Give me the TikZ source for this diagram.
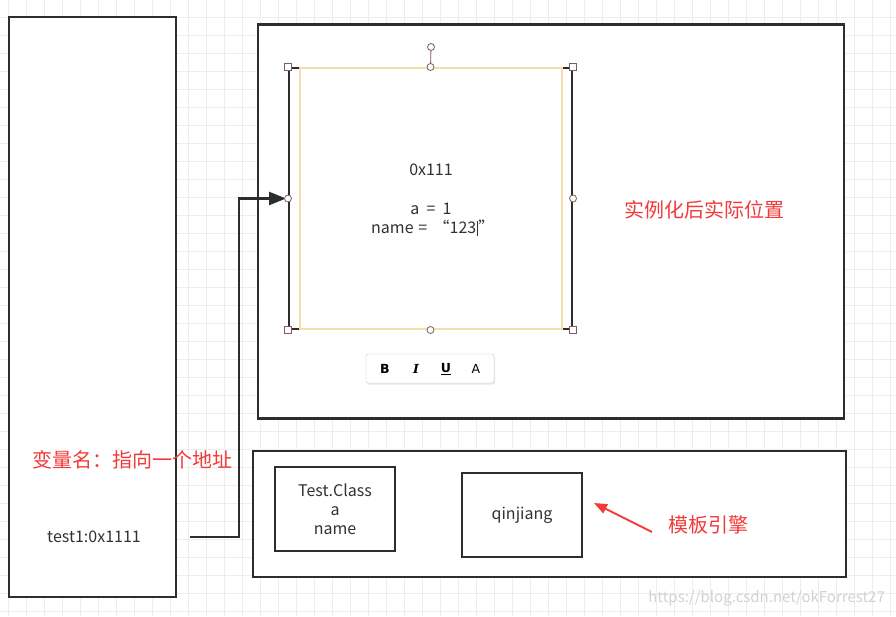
\documentclass[tikz,border=0pt]{standalone}
\usepackage{fontspec}
\setmainfont{Noto Sans CJK SC}
\newfontfamily\tbsans{DejaVu Sans}
\newfontfamily\tbserif{DejaVu Serif}
\usetikzlibrary{arrows.meta,shadows}
\definecolor{ink}{RGB}{45,45,45}
\definecolor{txt}{RGB}{50,50,50}
\definecolor{redtxt}{RGB}{242,58,58}
\definecolor{handle}{RGB}{130,90,90}
\definecolor{selyel}{RGB}{245,222,170}
\tikzset{
  gridline/.style={draw=gray!14, line width=0.9pt},
  box/.style={draw=ink, line width=2.4pt, fill=white, inner sep=0pt, rectangle},
  lbl/.style={text=txt, font=\fontsize{16}{19}\selectfont, inner sep=0pt},
  redlbl/.style={text=redtxt, font=\fontsize{20}{24}\selectfont, inner sep=0pt},
  sqh/.style={draw=handle, fill=white, line width=0.8pt, minimum size=7pt, inner sep=0pt, rectangle},
  cih/.style={draw=handle, fill=white, line width=0.8pt, minimum size=7pt, inner sep=0pt, circle},
  conn/.style={draw=ink, line width=2.5pt, -{Triangle[length=17pt,width=13pt]}},
  redarrow/.style={draw=redtxt, line width=2pt, -{Triangle[length=13pt,width=10pt]}},
  tblbl/.style={inner sep=0pt, text=black, font=\fontsize{12.5}{14}\selectfont}
}
\begin{document}
\begin{tikzpicture}[x=1pt,y=-1pt]
\useasboundingbox (0,0) rectangle (896,616);
\fill[white] (0,0) rectangle (896,616);
% grid
\foreach \x in {8,26,...,890} \draw[gridline] (\x,0) -- (\x,616);
\foreach \y in {17,35,...,611} \draw[gridline] (0,\y) -- (896,\y);
% main boxes
\node[box, minimum width=167pt, minimum height=580pt] (var) at (92.5,307) {};
\node[box, minimum width=586pt, minimum height=394pt] (inst) at (551,221.5) {};
\node[box, minimum width=593pt, minimum height=126pt] (tmpl) at (549.5,514) {};
\node[box, minimum width=120pt, minimum height=84pt] (cls) at (335,509) {};
\node[box, minimum width=120pt, minimum height=84pt] (qj) at (522,515) {};
% selected object
\node[draw=ink, line width=2pt, minimum width=283pt, minimum height=261pt, inner sep=0pt] (obj) at (430.5,198.5) {};
\node[draw=selyel, line width=1.2pt, minimum width=262pt, minimum height=261pt, inner sep=0pt] (objin) at (431,198.5) {};
\node[cih] (rot) at (431,47) {};
\draw[handle, line width=0.8pt] (rot) -- (obj.north);
\node[sqh] (h1) at (obj.north west) {};
\node[sqh] (h2) at (obj.north east) {};
\node[sqh] (h3) at (obj.south west) {};
\node[sqh] (h4) at (obj.south east) {};
\node[cih] (h5) at (obj.north) {};
\node[cih] (h6) at (obj.south) {};
\node[cih] (h7) at (obj.east) {};
% texts in object
\node[lbl] (addr) at (431,170) {0x111};
\node[lbl] (fa) at (431,209) {a\hspace{0.45em}=\hspace{0.45em}1};
\node[lbl, anchor=west] (fn) at (371,228) {name\hspace{0.3em}=\hspace{0.4em}“123\kern0.5pt\rule[-2pt]{0.9pt}{15pt}\kern0.5pt”};
% toolbar
\node[draw=gray!45, fill=white, rounded corners=2pt, minimum width=128pt, minimum height=29pt, drop shadow={opacity=0.18, shadow xshift=1pt, shadow yshift=-1.5pt}] (tb) at (430,368.5) {};
\node[tblbl] (tbB) at (385,369) {\tbsans\bfseries B};
\node[tblbl] (tbI) at (416,369) {\tbserif\bfseries\itshape I};
\node[tblbl] (tbU) at (446,369) {\tbsans\bfseries\underline{U}};
\node[tblbl] (tbA) at (476,369) {\tbsans A};
% connector
\coordinate (src) at (190,537);
\coordinate (bend) at (239,537);
\draw[conn, shorten >=2pt] (src) -- (bend) |- (obj.west);
\node[cih] (h8) at (obj.west) {};
% left box labels
\node[lbl] (t1) at (94,537) {test1:0x1111};
\node[redlbl] (vn) at (132,460) {变量名：指向一个地址};
% right label
\node[redlbl] (pos) at (704,210) {实例化后实际位置};
% template labels
\node[lbl, align=center, font=\fontsize{16}{19}\selectfont] (clst) at (cls) {Test.Class\\a\\name};
\node[lbl] (qjt) at (qj) {qinjiang};
\coordinate (rt) at (652,532);
\coordinate (rh) at (594,503);
\draw[redarrow] (rt) -- (rh);
\node[redlbl] (eng) at (708,525) {模板引擎};
% watermark
\node[anchor=east, inner sep=0pt, text=gray!35, font=\fontsize{15}{18}\selectfont] (wm) at (885,598) {https://blog.csdn.net/okForrest27};
\end{tikzpicture}
\end{document}
